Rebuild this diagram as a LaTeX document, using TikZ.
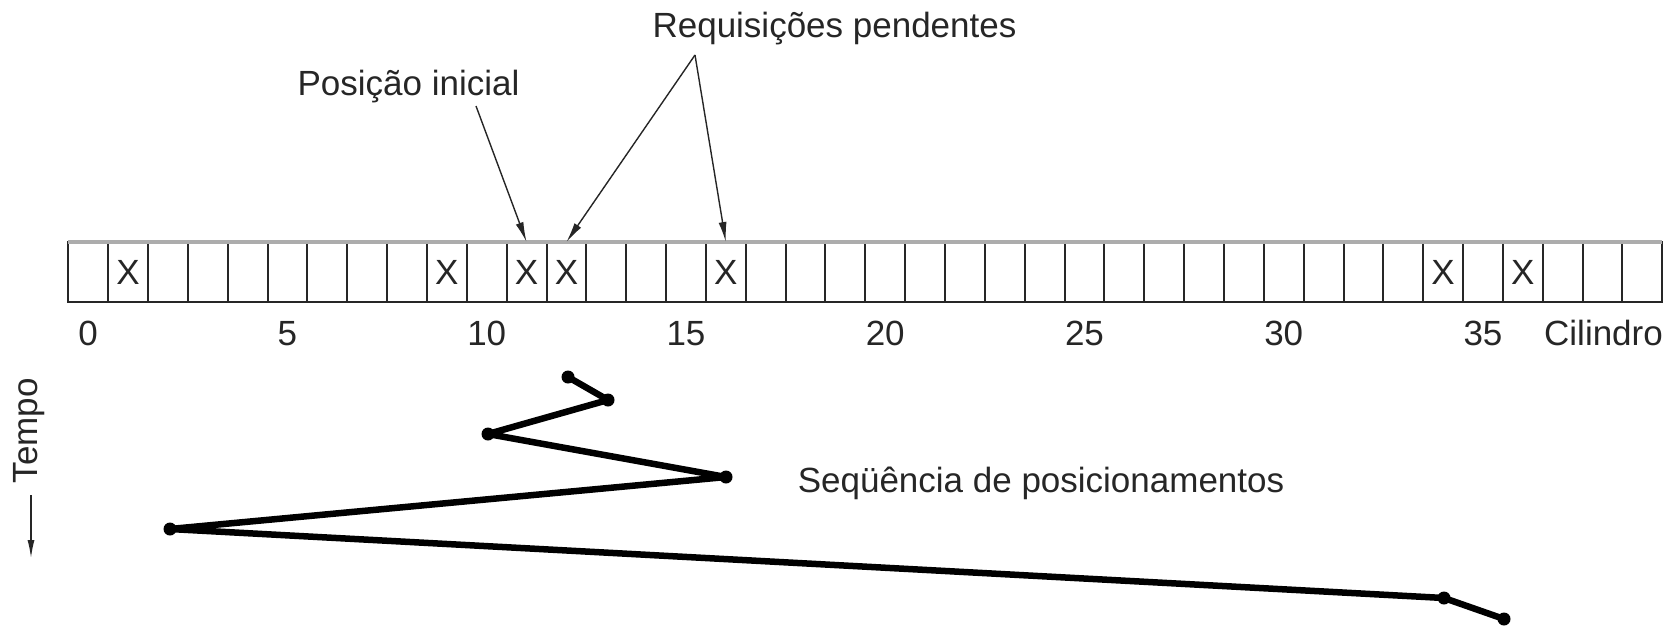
\documentclass[tikz,border=0pt]{standalone}
\usepackage{fontspec}
\setmainfont{Liberation Sans}
\usetikzlibrary{arrows.meta}
\tikzset{
  cellbox/.style={draw=black!85, line width=2pt, minimum width=39.85pt, minimum height=60pt, inner sep=0pt, outer sep=0pt},
  lbl/.style={inner sep=0pt, anchor=base, font=\fontsize{35}{40}\selectfont, text=black!85},
  ptr/.style={line width=1.4pt, draw=black!85, -{Latex[length=20pt,width=8pt]}},
  seq/.style={line width=6.5pt, draw=black, line join=round},
  dot/.style={circle, fill=black, inner sep=0pt, minimum size=13pt}
}
\begin{document}
\begin{tikzpicture}[x=1pt,y=-1pt]
\useasboundingbox (0,0) rectangle (1672,627);
% cylinder cells
\foreach \i in {0,...,39}{
  \node[cellbox] (c\i) at ({68.3+(\i+0.5)*39.85},272) {};
}
\draw[gray!65, line width=4pt] (c0.north west) -- (c39.north east);
% requests
\foreach \i in {1,9,11,12,16,34,36}{
  \node[lbl] (x\i) at ([yshift=-12pt]c\i.center) {X};
}
% axis numbers
\foreach \i in {0,5,...,35}{
  \node[lbl] (n\i) at ({68.3+(\i+0.5)*39.85},345) {\i};
}
\node[lbl] (cil) at (1603.5,345) {Cilindro};
% top labels
\node[lbl] (pi) at (408.5,95) {Posição inicial};
\node[lbl] (rp) at (834.5,37) {Requisições pendentes};
\coordinate (pis) at (476,106);
\coordinate (rpa) at (695,55);
\draw[ptr] (pis) -- (c11.north);
\draw[ptr] (rpa) -- (c12.north);
\draw[ptr] (rpa) -- (c16.north);
% time axis
\node[lbl, rotate=90, anchor=center] (tempo) at (29,431) {Tempo};
\coordinate (ta) at (31,495);
\coordinate (tb) at (31,558);
\draw[line width=1.4pt, draw=black!85, -{Latex[length=18pt,width=7pt]}] (ta) -- (tb);
% seek sequence
\coordinate (p1) at (568,377);
\coordinate (p2) at (608,400);
\coordinate (p3) at (488,434);
\coordinate (p4) at (726,477);
\coordinate (p5) at (170,529);
\coordinate (p6) at (1444,598);
\coordinate (p7) at (1504,619);
\draw[seq] (p1) -- (p2) -- (p3) -- (p4) -- (p5) -- (p6) -- (p7);
\foreach \p in {p1,p2,p3,p4,p5,p6,p7}{
  \node[dot] (d\p) at (\p) {};
}
\node[lbl] (sq) at (1041,492) {Seqüência de posicionamentos};
\end{tikzpicture}
\end{document}
